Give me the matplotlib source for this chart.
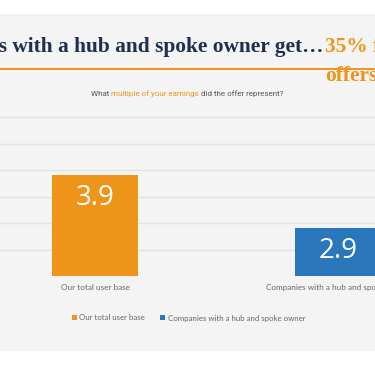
import matplotlib
matplotlib.use("Agg")
import matplotlib.pyplot as plt
from matplotlib.patches import Rectangle, Patch
from matplotlib import font_manager as fm

categories = ["Our total user base", "Companies with a hub and spoke owner"]
values = [3.9, 2.9]
colors = ["#EE9418", "#2A77BB"]
yticks = [2.0, 2.5, 3.0, 3.5, 4.0, 4.5, 5.0]
title_main = "Companies with a hub and spoke owner get\u2026"
title_hi = "35% fewer"
title_hi2 = "offers"
sub_parts = [("What ", "#555555"), ("multiple of your earnings", "#EE9418"),
             (" did the offer represent?", "#555555")]

def has_font(name):
    try:
        fm.findfont(fm.FontProperties(family=name), fallback_to_default=False)
        return True
    except Exception:
        return False

narrow = "Liberation Sans Narrow" if has_font("Liberation Sans Narrow") else "Roboto"

W, H = 375, 366
fig = plt.figure(figsize=(W / 100, H / 100), dpi=100)
fig.patch.set_facecolor("white")

def fy(py):
    return 1 - py / H

def fx(px):
    return px / W

# grey panel
fig.patches.append(Rectangle((0, fy(351)), 1, fy(14) - fy(351), transform=fig.transFigure,
                             facecolor="#F4F4F4", edgecolor="none", zorder=-5))

# title
tfs = 15.4
fig.text(fx(323), fy(52), title_main, ha="right", va="baseline", fontsize=tfs,
         family="Liberation Serif", weight="bold", color="#1F2F4F")
fig.text(fx(325), fy(52), title_hi, ha="left", va="baseline", fontsize=tfs,
         family="Liberation Serif", weight="bold", color="#EE9418")
fig.text(fx(325), fy(81), title_hi2, ha="left", va="baseline", fontsize=tfs,
         family="Liberation Serif", weight="bold", color="#EE9418")
fig.add_artist(plt.Line2D([0, 1], [fy(69), fy(69)], transform=fig.transFigure,
                          color="#EE9418", lw=1.4))

# subtitle (multi-colour)
sub_fs = 5.8
renderer = fig.canvas.get_renderer()
widths = []
tmp = []
for s, c in sub_parts:
    t = fig.text(0, 0, s, fontsize=sub_fs, family=narrow, color=c)
    widths.append(t.get_window_extent(renderer).width)
    tmp.append(t)
total = sum(widths)
x0 = 187 - total / 2
for t, w in zip(tmp, widths):
    t.set_position((fx(x0), fy(96)))
    t.set_va("baseline")
    x0 += w

# axes
ax = fig.add_axes([fx(-26.5), fy(276), 486 / W, (276 - 117) / H])
ax.set_facecolor("none")
x = range(len(categories))
bars = ax.bar(x, values, width=86 / 243, color=colors, zorder=3)
ax.set_xlim(-0.5, 1.5)
ax.set_ylim(yticks[0], yticks[-1])
ax.set_yticks(yticks)
ax.yaxis.grid(True, color="#E3E3E3", lw=1, zorder=0)
ax.tick_params(axis="y", length=0, labelleft=False)
ax.tick_params(axis="x", length=0, pad=6, labelsize=5.9, labelcolor="#666666")
ax.set_xticks(list(x))
ax.set_xticklabels(categories, family="Lato")
for sp in ax.spines.values():
    sp.set_visible(False)

for xi, v in zip(x, values):
    ax.annotate(f"{v}", (xi, v), xytext=(0, -23), textcoords="offset pixels",
                ha="center", va="center", color="white", fontsize=20, family="Open Sans")

handles = [Patch(facecolor=c, edgecolor="none") for c in colors]
fig.legend(handles, categories, loc="center", bbox_to_anchor=(fx(188.5), fy(318)), ncol=2,
           frameon=False, prop={"family": "Lato", "size": 5.7}, labelcolor="#666666",
           handlelength=0.6, handleheight=0.6, handletextpad=0.3, columnspacing=2.0)

fig.savefig("out.png", dpi=100)
